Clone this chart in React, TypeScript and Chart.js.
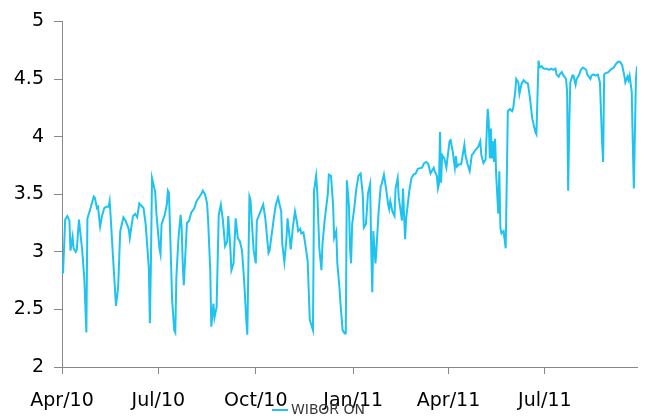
import React, { useEffect, useRef } from "react";
import { Chart, registerables } from "chart.js";

Chart.register(...registerables);

// x positions: days since 2010-04-01
const dayIndex = [
  0, 1, 3, 5, 7, 8, 10, 11, 13, 14, 16, 19, 21, 23, 24, 27, 30, 31, 33, 34, 36, 38, 40, 42, 44, 45, 46, 48, 51, 53,
  55, 56, 58, 60, 63, 64, 67, 69, 71, 73, 75, 77, 79, 82, 83, 84, 85, 88, 89, 92, 93, 94, 97, 99, 100, 101, 102, 104,
  106, 107, 108, 110, 112, 113, 114, 115, 117, 118, 120, 122, 125, 127, 130, 132, 133, 135, 137, 138, 140, 141, 143,
  144, 146, 148, 150, 152, 154, 156, 157, 159, 160, 162, 164, 166, 168, 170, 172, 174, 175, 177, 178, 179, 181, 183,
  184, 187, 190, 192, 195, 196, 200, 202, 204, 207, 208, 210, 212, 213, 215, 216, 218, 220, 222, 223, 225, 226, 228,
  230, 232, 234, 235, 237, 238, 240, 241, 243, 245, 246, 248, 251, 252, 254, 256, 257, 259, 260, 262, 263, 265, 267,
  268, 269, 271, 272, 273, 274, 276, 278, 280, 282, 284, 285, 287, 289, 291, 292, 293, 294, 296, 297, 299, 301, 302,
  304, 306, 308, 309, 310, 312, 314, 315, 317, 318, 319, 321, 322, 324, 325, 328, 330, 332, 334, 336, 340, 342, 344,
  346, 348, 351, 352, 354, 355, 356, 357, 358, 359, 361, 363, 364, 366, 367, 369, 371, 372, 373, 375, 377, 380, 381,
  383, 385, 387, 388, 391, 393, 395, 396, 398, 400, 402, 403, 404, 405, 406, 407, 408, 409, 410, 412, 413, 414, 415,
  417, 419, 420, 421, 423, 425, 426, 428, 429, 431, 432, 434, 436, 438, 440, 442, 444, 447, 448, 450, 451, 453, 455,
  458, 460, 462, 464, 466, 467, 469, 470, 472, 473, 476, 477, 478, 479, 480, 482, 483, 485, 486, 488, 490, 492, 495,
  496, 499, 500, 502, 504, 506, 508, 510, 511, 512, 513, 516, 518, 521, 523, 525, 527, 529, 531, 532, 534, 535, 536,
  538, 539, 540, 542, 543,
];

const wiborOn = [
  2.81, 2.82, 3.28, 3.31, 3.27, 3.01, 3.13, 3.03, 3.0, 3.02, 3.28, 3.02, 2.78, 2.3, 3.29, 3.38, 3.48, 3.47, 3.38, 3.39,
  3.22, 3.32, 3.38, 3.39, 3.39, 3.44, 3.3, 2.98, 2.53, 2.69, 3.18, 3.22, 3.3, 3.27, 3.2, 3.12, 3.31, 3.33, 3.3, 3.42,
  3.4, 3.38, 3.24, 2.86, 2.38, 2.92, 3.64, 3.52, 3.35, 3.03, 2.98, 3.24, 3.32, 3.41, 3.53, 3.51, 3.21, 2.58, 2.32,
  2.3, 2.78, 3.12, 3.32, 3.21, 2.9, 2.71, 3.07, 3.25, 3.27, 3.34, 3.38, 3.44, 3.48, 3.51, 3.53, 3.5, 3.42, 3.27, 2.84,
  2.35, 2.55, 2.43, 2.52, 3.32, 3.41, 3.27, 3.05, 3.09, 3.31, 3.03, 2.84, 2.9, 3.29, 3.12, 3.09, 3.01, 2.75, 2.41,
  2.28, 3.48, 3.45, 3.3, 3.01, 2.9, 3.27, 3.34, 3.41, 3.29, 2.99, 3.01, 3.29, 3.41, 3.47, 3.35, 3.07, 2.91, 3.12,
  3.29, 3.12, 3.02, 3.21, 3.35, 3.25, 3.18, 3.2, 3.16, 3.17, 3.05, 2.92, 2.41, 2.38, 2.32, 3.53, 3.66, 3.53, 3.03,
  2.84, 3.07, 3.27, 3.5, 3.67, 3.66, 3.41, 3.12, 3.18, 2.9, 2.69, 2.55, 2.32, 2.29, 2.29, 3.62, 3.4, 3.03, 2.9, 3.24,
  3.38, 3.55, 3.66, 3.68, 3.5, 3.21, 3.24, 3.51, 3.59, 3.03, 2.65, 3.18, 2.9, 3.03, 3.35, 3.57, 3.59, 3.67, 3.55,
  3.41, 3.37, 3.44, 3.35, 3.31, 3.55, 3.64, 3.47, 3.41, 3.27, 3.55, 3.11, 3.29, 3.53, 3.64, 3.67, 3.68, 3.72, 3.73,
  3.77, 3.78, 3.76, 3.68, 3.73, 3.7, 3.66, 3.55, 3.59, 4.04, 3.6, 3.84, 3.81, 3.73, 3.81, 3.96, 3.97, 3.87, 3.73,
  3.83, 3.74, 3.76, 3.76, 3.93, 3.84, 3.76, 3.7, 3.84, 3.85, 3.89, 3.91, 3.96, 3.84, 3.77, 3.8, 4.24, 4.13, 3.81,
  4.07, 3.81, 3.96, 3.78, 3.98, 3.67, 3.33, 3.7, 3.21, 3.16, 3.18, 3.03, 3.61, 4.22, 4.24, 4.22, 4.24, 4.39, 4.5,
  4.47, 4.37, 4.46, 4.49, 4.47, 4.46, 4.33, 4.16, 4.04, 4.02, 4.66, 4.6, 4.61, 4.59, 4.59, 4.58, 4.59, 4.58, 4.59,
  4.54, 4.52, 4.54, 4.56, 4.54, 4.5, 4.39, 3.53, 4.1, 4.47, 4.53, 4.53, 4.45, 4.5, 4.53, 4.58, 4.6, 4.58, 4.54, 4.5,
  4.53, 4.54, 4.53, 4.54, 4.47, 3.96, 3.78, 4.54, 4.55, 4.56, 4.58, 4.6, 4.63, 4.65, 4.65, 4.62, 4.53, 4.47, 4.52,
  4.49, 4.53, 4.39, 3.96, 3.55, 4.5, 4.61,
];

const tickDays = [0, 91, 183, 275, 365, 456];
const tickLabels = ["Apr/10", "Jul/10", "Oct/10", "Jan/11", "Apr/11", "Jul/11"];
const seriesLabel = "WIBOR ON";
const lastDay = 543;

const LINE_COLOR = "#1EC3F0";
const AXIS_COLOR = "#888888";
const FONT = "'DejaVu Sans', Verdana, sans-serif";

const legendPlugin = {
  id: "bottomLegend",
  afterDraw(chart: any) {
    const ctx = chart.ctx;
    const ds = chart.data.datasets[0];
    ctx.save();
    ctx.font = `14px ${FONT}`;
    const tw = ctx.measureText(ds.label).width;
    const total = 16 + 3 + tw;
    const x0 = chart.width / 2 - total / 2 - 4;
    const y = chart.height - 7;
    ctx.strokeStyle = ds.borderColor;
    ctx.lineWidth = 2;
    ctx.beginPath();
    ctx.moveTo(x0, y);
    ctx.lineTo(x0 + 16, y);
    ctx.stroke();
    ctx.fillStyle = "#3a3a3a";
    ctx.textBaseline = "middle";
    ctx.textAlign = "left";
    ctx.fillText(ds.label, x0 + 19, y);
    ctx.restore();
  },
};

export default function App() {
  const ref = useRef<HTMLCanvasElement | null>(null);

  useEffect(() => {
    document.body.style.margin = "0";
    const canvas = ref.current;
    if (!canvas) return;
    const points = dayIndex.map((d, i) => ({ x: d, y: wiborOn[i] }));
    const chart = new Chart(canvas, {
      type: "line",
      data: {
        datasets: [
          {
            label: seriesLabel,
            data: points,
            borderColor: LINE_COLOR,
            backgroundColor: LINE_COLOR,
            borderWidth: 2,
            pointRadius: 0,
            tension: 0,
            fill: false,
          },
        ],
      },
      options: {
        animation: false,
        responsive: false,
        devicePixelRatio: 1,
        layout: { padding: { top: 19, right: 8, left: 0, bottom: 0 } },
        plugins: {
          legend: { display: false },
          tooltip: { enabled: false },
        },
        scales: {
          x: {
            type: "linear",
            min: 0,
            max: lastDay,
            afterBuildTicks: (axis: any) => {
              axis.ticks = tickDays.map((v) => ({ value: v }));
            },
            afterFit: (axis: any) => {
              axis.height = 50;
            },
            grid: {
              display: true,
              drawOnChartArea: false,
              drawTicks: true,
              tickLength: 7,
              color: AXIS_COLOR,
            },
            border: { display: true, color: AXIS_COLOR, width: 1 },
            ticks: {
              autoSkip: false,
              maxRotation: 0,
              padding: 16,
              color: "#000",
              font: { family: FONT, size: 19 },
              callback: (v: any) => {
                const i = tickDays.indexOf(Number(v));
                return i >= 0 ? tickLabels[i] : "";
              },
            },
          },
          y: {
            min: 2,
            max: 5,
            afterFit: (axis: any) => {
              axis.width = 62;
            },
            grid: {
              display: true,
              drawOnChartArea: false,
              drawTicks: true,
              tickLength: 8,
              color: AXIS_COLOR,
            },
            border: { display: true, color: AXIS_COLOR, width: 1 },
            ticks: {
              stepSize: 0.5,
              padding: 10,
              color: "#000",
              font: { family: FONT, size: 19 },
              callback: (v: any) => String(v),
            },
          },
        },
      },
      plugins: [legendPlugin],
    });
    return () => chart.destroy();
  }, []);

  return (
    <div style={{ position: "absolute", left: 0, top: 0, width: 645, height: 417, background: "#fff" }}>
      <canvas ref={ref} width={645} height={417} style={{ display: "block" }} />
    </div>
  );
}
